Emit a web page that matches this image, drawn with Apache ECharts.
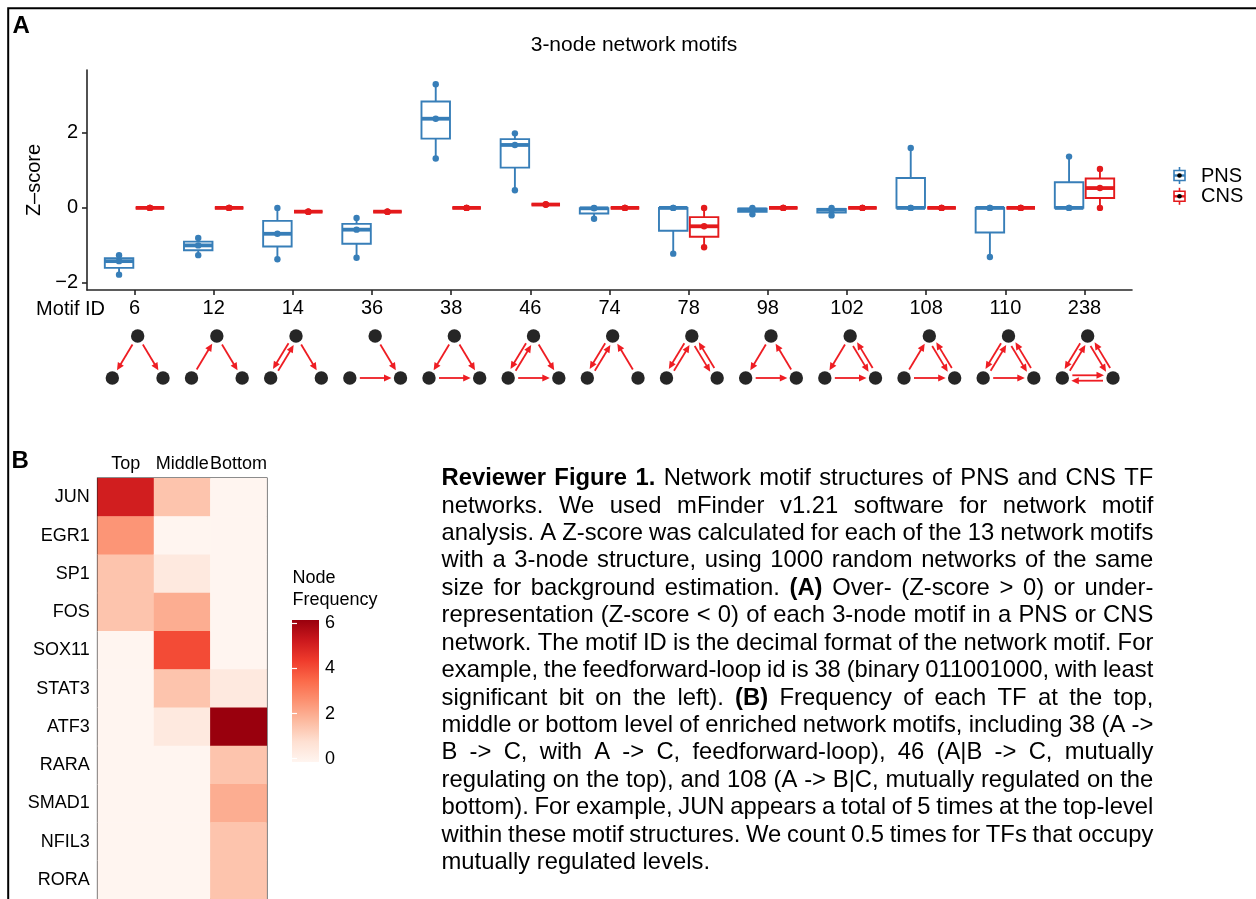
<!DOCTYPE html>
<html>
<head>
<meta charset="utf-8">
<script src="https://cdn.jsdelivr.net/npm/echarts@6/dist/echarts.min.js"></script>
<style>
html, body { margin: 0; padding: 0; background: #ffffff; }
#chart { width: 1256px; height: 899px; }
</style>
</head>
<body>
<div id="chart"></div>
<script>
// ---- Panel A: Z-scores of the 13 three-node motifs (three networks per group) ----
const MOTIF_IDS = ['6', '12', '14', '36', '38', '46', '74', '78', '98', '102', '108', '110', '238'];
const PNS_POINTS = [
  [-1.26, -1.42, -1.78],
  [-0.80, -1.00, -1.26],
  [0.00, -0.69, -1.37],
  [-0.27, -0.58, -1.33],
  [3.30, 2.38, 1.32],
  [1.99, 1.68, 0.47],
  [0.00, -0.01, -0.29],
  [0.00, 0.00, -1.22],
  [0.00, -0.04, -0.17],
  [0.00, -0.05, -0.20],
  [1.60, 0.00, 0.00],
  [0.00, 0.00, -1.31],
  [1.37, 0.00, 0.00]
];
const CNS_POINTS = [
  [0, 0, 0],
  [0, 0, 0],
  [-0.10, -0.10, -0.10],
  [-0.10, -0.10, -0.10],
  [0, 0, 0],
  [0.09, 0.09, 0.09],
  [0, 0, 0],
  [0.00, -0.49, -1.05],
  [0, 0, 0],
  [0, 0, 0],
  [0, 0, 0],
  [0, 0, 0],
  [1.04, 0.53, 0.00]
];
const Z_TICKS = [-2, 0, 2];
const GROUPS = ['PNS', 'CNS'];

// Directed edges of each motif: A = top node, B = bottom-left, C = bottom-right
const MOTIF_EDGES = [
  ['AB', 'AC'],
  ['BA', 'AC'],
  ['AB', 'BA', 'AC'],
  ['AC', 'BC'],
  ['AB', 'AC', 'BC'],
  ['AB', 'BA', 'AC', 'BC'],
  ['AB', 'BA', 'CA'],
  ['AB', 'BA', 'AC', 'CA'],
  ['AB', 'BC', 'CA'],
  ['AB', 'AC', 'CA', 'BC'],
  ['BA', 'AC', 'CA', 'BC'],
  ['AB', 'BA', 'AC', 'CA', 'BC'],
  ['AB', 'BA', 'AC', 'CA', 'BC', 'CB']
];

// ---- Panel B: node frequency of each TF by motif level ----
const TF_NAMES = ['JUN', 'EGR1', 'SP1', 'FOS', 'SOX11', 'STAT3', 'ATF3', 'RARA', 'SMAD1', 'NFIL3', 'RORA'];
const LEVELS = ['Top', 'Middle', 'Bottom'];
const TOP_FREQ = [5, 2.5, 1.5, 1.5, 0, 0, 0, 0, 0, 0, 0];
const MIDDLE_FREQ = [1.5, 0, 0.5, 2, 4, 1.5, 0.5, 0, 0, 0, 0];
const BOTTOM_FREQ = [0, 0, 0, 0, 0, 0.5, 6, 1.5, 2, 1.5, 1.5];
const FREQ_TICKS = [0, 2, 4, 6];
const REDS = ['#FFF5F0', '#FEE0D2', '#FCBBA1', '#FC9272', '#FB6A4A', '#EF3B2C', '#CB181D', '#99000D'];

const CAPTION_LINES = [
  '**Reviewer Figure 1.** Network motif structures of PNS and CNS TF',
  'networks. We used mFinder v1.21 software for network motif',
  'analysis. A Z-score was calculated for each of the 13 network motifs',
  'with a 3-node structure, using 1000 random networks of the same',
  'size for background estimation. **(A)** Over- (Z-score > 0) or under-',
  'representation (Z-score < 0) of each 3-node motif in a PNS or CNS',
  'network. The motif ID is the decimal format of the network motif. For',
  'example, the feedforward-loop id is 38 (binary 011001000, with least',
  'significant bit on the left). **(B)** Frequency of each TF at the top,',
  'middle or bottom level of enriched network motifs, including 38 (A ->',
  'B -> C, with A -> C, feedforward-loop), 46 (A|B -> C, mutually',
  'regulating on the top), and 108 (A -> B|C, mutually regulated on the',
  'bottom). For example, JUN appears a total of 5 times at the top-level',
  'within these motif structures. We count 0.5 times for TFs that occupy',
  'mutually regulated levels.'
];

// ---------------------------------------------------------------------------
const FONT = 'Liberation Sans';
const BLUE = '#377EB8';
const RED = '#E41A1C';
const ARROW_RED = '#EE1D23';
const NODE_COLOR = '#262626';
const AXIS_COLOR = '#262626';

// type-7 quantiles, as used by ggplot's stat_boxplot
function quantile(sorted, p) {
  const h = (sorted.length - 1) * p;
  const lo = Math.floor(h), hi = Math.ceil(h);
  return sorted[lo] + (h - lo) * (sorted[hi] - sorted[lo]);
}
function boxStats(pts) {
  const s = pts.slice().sort((a, b) => a - b);
  const q1 = quantile(s, 0.25), med = quantile(s, 0.5), q3 = quantile(s, 0.75);
  const iqr = q3 - q1;
  const low = Math.min(...s.filter(v => v >= q1 - 1.5 * iqr));
  const high = Math.max(...s.filter(v => v <= q3 + 1.5 * iqr));
  return [low, q1, med, q3, high];
}

const DODGE = 0.195;
const BOX_HALF = 0.18;
const catIndex = MOTIF_IDS.map((_, i) => i);

function boxSeries(name, points, color, offset) {
  return {
    type: 'custom',
    name: name,
    xAxisIndex: 0,
    yAxisIndex: 0,
    z: 3,
    data: points.map((pts, i) => [i].concat(boxStats(pts))),
    encode: { x: 0, y: [1, 2, 3, 4, 5] },
    renderItem: function (params, api) {
      const c = api.value(0) + offset;
      const low = api.value(1), q1 = api.value(2), med = api.value(3), q3 = api.value(4), high = api.value(5);
      const xl = api.coord([c - BOX_HALF, 0])[0];
      const xr = api.coord([c + BOX_HALF, 0])[0];
      const xc = api.coord([c, 0])[0];
      const y = v => api.coord([c, v])[1];
      const lw = 1.9;
      return {
        type: 'group',
        children: [
          { type: 'line', shape: { x1: xc, y1: y(high), x2: xc, y2: y(q3) }, style: { stroke: color, lineWidth: lw } },
          { type: 'line', shape: { x1: xc, y1: y(q1), x2: xc, y2: y(low) }, style: { stroke: color, lineWidth: lw } },
          { type: 'rect', shape: { x: xl, y: y(q3), width: xr - xl, height: y(q1) - y(q3) },
            style: { fill: '#ffffff', stroke: color, lineWidth: lw } },
          { type: 'line', shape: { x1: xl, y1: y(med), x2: xr, y2: y(med) }, style: { stroke: color, lineWidth: lw * 2 } }
        ]
      };
    }
  };
}

function pointSeries(name, points, color, offset) {
  const data = [];
  points.forEach((pts, i) => pts.forEach(v => data.push([i + offset, v])));
  return {
    type: 'scatter', name: name, xAxisIndex: 0, yAxisIndex: 0, z: 4,
    symbol: 'circle', symbolSize: 6.4,
    itemStyle: { color: color, opacity: 1 },
    data: data
  };
}

// motif glyphs drawn on a hidden axis aligned with the motif axis
const NODE_R = 6.7;
const EDGE_START = 10, EDGE_END = 9;
function arrowShapes(p, q, shift, color) {
  const dx = q[0] - p[0], dy = q[1] - p[1];
  const L = Math.hypot(dx, dy);
  const ux = dx / L, uy = dy / L;
  const nx = -uy, ny = ux;
  const a = [p[0] + ux * EDGE_START + nx * shift, p[1] + uy * EDGE_START + ny * shift];
  const t = [q[0] - ux * EDGE_END + nx * shift, q[1] - uy * EDGE_END + ny * shift];
  const hl = 7.5, hw = 3.5;
  const b = [t[0] - ux * hl, t[1] - uy * hl];
  return [
    { type: 'line', shape: { x1: a[0], y1: a[1], x2: b[0] + ux * 1, y2: b[1] + uy * 1 }, style: { stroke: color, lineWidth: 1.8 } },
    { type: 'polygon', shape: { points: [t, [b[0] + nx * hw, b[1] + ny * hw], [b[0] - nx * hw, b[1] - ny * hw]] }, style: { fill: color } }
  ];
}

const motifSeries = {
  type: 'custom',
  name: 'motifs',
  xAxisIndex: 1,
  yAxisIndex: 1,
  clip: false,
  silent: true,
  data: catIndex.map(i => [i]),
  renderItem: function (params, api) {
    const i = api.value(0) + 0.04;
    const nodes = {
      A: api.coord([i, 1]),
      B: api.coord([i - 0.32, 0]),
      C: api.coord([i + 0.32, 0])
    };
    const edges = MOTIF_EDGES[params.dataIndex];
    const children = [];
    edges.forEach(e => {
      const back = e[1] + e[0];
      // paired edges sit side by side; the bottom pair puts B->C above C->B
      let shift = edges.indexOf(back) >= 0 ? 2.7 : 0;
      if (e === 'BC' || e === 'CB') shift = -shift;
      arrowShapes(nodes[e[0]], nodes[e[1]], shift, ARROW_RED).forEach(s => children.push(s));
    });
    ['A', 'B', 'C'].forEach(k => children.push({
      type: 'circle', shape: { cx: nodes[k][0], cy: nodes[k][1], r: NODE_R }, style: { fill: NODE_COLOR }
    }));
    return { type: 'group', children: children };
  }
};

// heatmap cells
const heatData = [];
[TOP_FREQ, MIDDLE_FREQ, BOTTOM_FREQ].forEach((col, x) => col.forEach((v, y) => heatData.push([x, y, v])));

// colour bar: range of the fill scale with ggplot's half-bin inset of the breaks
const FREQ_MIN = 0, FREQ_MAX = 6, BAR_PAD = 0.15;
const colorBarSeries = {
  type: 'custom',
  name: 'colorbar',
  xAxisIndex: 3,
  yAxisIndex: 3,
  silent: true,
  z: 1,
  data: [[0]],
  renderItem: function (params, api) {
    const p0 = api.coord([0, FREQ_MIN - BAR_PAD]);
    const p1 = api.coord([1, FREQ_MAX + BAR_PAD]);
    return {
      type: 'rect',
      shape: { x: p0[0], y: p1[1], width: p1[0] - p0[0], height: p0[1] - p1[1] },
      style: {
        fill: new echarts.graphic.LinearGradient(0, 1, 0, 0,
          REDS.map((c, k) => ({ offset: k / (REDS.length - 1), color: c })))
      }
    };
  }
};

// caption, set as justified lines
const CAP_SIZE = 23.8;
const CAP_X = 441.5, CAP_W = 711.8, CAP_Y0 = 478.5, CAP_LH = 27.43;
const measureCtx = document.createElement('canvas').getContext('2d');
function textWidth(str, bold) {
  measureCtx.font = (bold ? 'bold ' : '') + CAP_SIZE + 'px "' + FONT + '"';
  return measureCtx.measureText(str).width;
}
const captionElements = [];
CAPTION_LINES.forEach((line, li) => {
  let bold = false;
  const words = line.split(' ').map(raw => {
    let w = raw, b = bold;
    if (w.startsWith('**')) { w = w.slice(2); b = true; bold = true; }
    if (w.endsWith('**')) { w = w.slice(0, -2); bold = false; }
    return { text: w, bold: b };
  });
  words.forEach(w => { w.width = textWidth(w.text, w.bold); });
  const total = words.reduce((s, w) => s + w.width, 0);
  const last = li === CAPTION_LINES.length - 1;
  const gap = last ? textWidth(' ', false) : (CAP_W - total) / (words.length - 1);
  let x = CAP_X;
  const y = CAP_Y0 + li * CAP_LH;
  words.forEach(w => {
    captionElements.push({
      type: 'text', x: x, y: y, silent: true,
      style: { text: w.text, fontFamily: FONT, fontSize: CAP_SIZE, fontWeight: w.bold ? 'bold' : 'normal',
               fill: '#000000', verticalAlign: 'middle', align: 'left' }
    });
    x += w.width + gap;
  });
});

function legendKey(cy, color) {
  const cx = 1179.5;
  return [
    { type: 'line', shape: { x1: cx, y1: cy - 8.5, x2: cx, y2: cy + 8.5 }, style: { stroke: color, lineWidth: 1.6 } },
    { type: 'rect', shape: { x: cx - 5.5, y: cy - 5, width: 11, height: 10 }, style: { fill: '#ffffff', stroke: color, lineWidth: 1.6 } },
    { type: 'line', shape: { x1: cx - 5.5, y1: cy, x2: cx + 5.5, y2: cy }, style: { stroke: color, lineWidth: 2.4 } },
    { type: 'circle', shape: { cx: cx, cy: cy, r: 2.3 }, style: { fill: '#000000' } }
  ];
}

const txt = (text, x, y, size, extra) => Object.assign({
  type: 'text', x: x, y: y, silent: true,
  style: Object.assign({ text: text, fontFamily: FONT, fontSize: size, fill: '#000000', verticalAlign: 'middle', align: 'left' }, extra || {})
});

const minusFmt = v => (v < 0 ? '\u2212' + Math.abs(v) : String(v));

const option = {
  animation: false,
  backgroundColor: '#ffffff',
  textStyle: { fontFamily: FONT },
  grid: [
    { left: 87, top: 70, width: 1045, height: 220, containLabel: false },
    { left: 87, top: 336, width: 1045, height: 42, containLabel: false },
    { left: 97.7, top: 478.3, width: 169, height: 421.3, containLabel: false, show: true,
      borderColor: '#1a1a1a', borderWidth: 1.6, backgroundColor: 'transparent' },
    { left: 292, top: 620, width: 27, height: 142, containLabel: false }
  ],
  xAxis: [
    {
      gridIndex: 0, type: 'value', min: -0.6, max: 12.6,
      axisLine: { show: true, onZero: false, lineStyle: { color: AXIS_COLOR, width: 1.6 } },
      axisTick: { show: true, customValues: catIndex, length: 5, lineStyle: { color: AXIS_COLOR, width: 1.6 } },
      axisLabel: { show: true, customValues: catIndex, formatter: v => MOTIF_IDS[Math.round(v)],
                   fontSize: 20, color: '#000000', margin: 8, fontFamily: FONT },
      splitLine: { show: false }
    },
    { gridIndex: 1, type: 'value', min: -0.6, max: 12.6, show: false },
    {
      gridIndex: 2, type: 'category', data: LEVELS, position: 'top',
      axisLine: { show: false }, axisTick: { show: false },
      axisLabel: { interval: 0, hideOverlap: false, fontSize: 18, color: '#000000', margin: 5, fontFamily: FONT },
      splitLine: { show: false }
    },
    { gridIndex: 3, type: 'value', min: 0, max: 1, show: false }
  ],
  yAxis: [
    {
      gridIndex: 0, type: 'value', min: -2.19, max: 3.68,
      name: 'Z\u2013score', nameLocation: 'middle', nameRotate: 90, nameGap: 43,
      nameTextStyle: { fontSize: 20, color: '#000000', fontFamily: FONT },
      axisLine: { show: true, onZero: false, lineStyle: { color: AXIS_COLOR, width: 1.6 } },
      axisTick: { show: true, customValues: Z_TICKS, length: 5, lineStyle: { color: AXIS_COLOR, width: 1.6 } },
      axisLabel: { show: true, customValues: Z_TICKS, formatter: minusFmt, fontSize: 20, color: '#000000', margin: 9, fontFamily: FONT },
      splitLine: { show: false }
    },
    { gridIndex: 1, type: 'value', min: 0, max: 1, show: false },
    {
      gridIndex: 2, type: 'category', data: TF_NAMES, inverse: true,
      axisLine: { show: false }, axisTick: { show: false },
      axisLabel: { interval: 0, fontSize: 18, color: '#000000', margin: 8, fontFamily: FONT },
      splitLine: { show: false }
    },
    {
      gridIndex: 3, type: 'value', min: FREQ_MIN - BAR_PAD, max: FREQ_MAX + BAR_PAD, position: 'right', z: 10,
      axisLine: { show: false }, splitLine: { show: false },
      axisTick: { show: true, inside: true, length: 5, customValues: FREQ_TICKS, lineStyle: { color: '#ffffff', width: 1.2 } },
      axisLabel: { show: true, customValues: FREQ_TICKS, fontSize: 18, color: '#000000', margin: 6, fontFamily: FONT }
    },
    {
      gridIndex: 3, type: 'value', min: FREQ_MIN - BAR_PAD, max: FREQ_MAX + BAR_PAD, position: 'left', z: 10,
      axisLine: { show: false }, splitLine: { show: false },
      axisTick: { show: true, inside: true, length: 5, customValues: FREQ_TICKS, lineStyle: { color: '#ffffff', width: 1.2 } },
      axisLabel: { show: false }
    }
  ],
  visualMap: {
    type: 'continuous', show: false, min: FREQ_MIN, max: FREQ_MAX, dimension: 2, seriesIndex: 5,
    inRange: { color: REDS }
  },
  series: [
    boxSeries(GROUPS[0], PNS_POINTS, BLUE, -DODGE),
    boxSeries(GROUPS[1], CNS_POINTS, RED, DODGE),
    pointSeries(GROUPS[0], PNS_POINTS, BLUE, -DODGE),
    pointSeries(GROUPS[1], CNS_POINTS, RED, DODGE),
    motifSeries,
    {
      type: 'heatmap', name: 'Node Frequency', xAxisIndex: 2, yAxisIndex: 2,
      data: heatData, itemStyle: { borderWidth: 0 }, emphasis: { disabled: true }
    },
    colorBarSeries
  ],
  graphic: [
    // outer frame
    { type: 'rect', silent: true, shape: { x: 8.2, y: 8.3, width: 1400, height: 1000 },
      style: { fill: 'none', stroke: '#000000', lineWidth: 2 }, z: 100 },
    txt('A', 12.5, 26.5, 24, { fontWeight: 'bold' }),
    txt('B', 11.5, 461, 24, { fontWeight: 'bold' }),
    txt('3-node network motifs', 634, 45.5, 21, { align: 'center' }),
    txt('Motif ID', 105, 309, 20, { align: 'right' }),
    ...legendKey(175.5, BLUE),
    ...legendKey(196.3, RED),
    txt('PNS', 1201, 176.5, 20),
    txt('CNS', 1201, 196.5, 20),
    txt('Node', 292.5, 578.5, 18),
    txt('Frequency', 292.5, 600, 18),
    ...captionElements
  ]
};

const chart = echarts.init(document.getElementById('chart'), null, { renderer: 'canvas' });
chart.setOption(option);
</script>
</body>
</html>
